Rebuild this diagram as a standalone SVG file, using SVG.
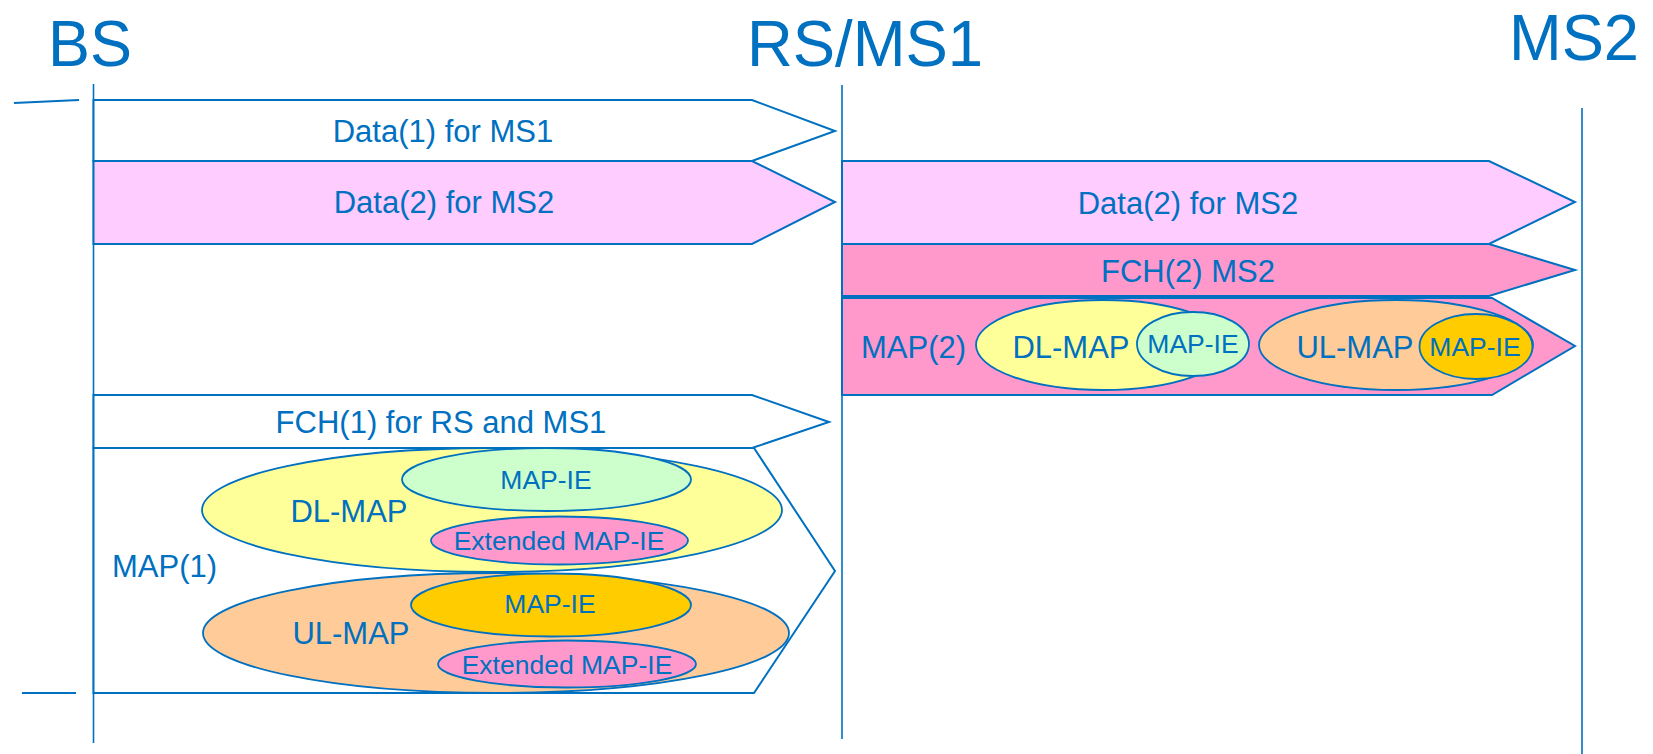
<svg xmlns="http://www.w3.org/2000/svg" width="1653" height="754" viewBox="0 0 1653 754">
  <style>
    .life { stroke: #0070C0; stroke-width: 1.6; fill: none; }
    .tick { stroke: #0070C0; stroke-width: 2; fill: none; }
    .msg { stroke: #0070C0; stroke-width: 2; stroke-linejoin: miter; }
    .ell { stroke: #0070C0; stroke-width: 1.8; }
    text { font-family: "Liberation Sans", Arial, sans-serif; fill: #0070C0; }
    .ent { font-size: 65px; }
    .lbl { font-size: 31px; }
    .sm { font-size: 26.5px; }
    .white { fill: #FFFFFF; }
    .lilac { fill: #FFCCFF; }
    .rose { fill: #FF99CC; }
    .yellow { fill: #FFFF99; }
    .mint { fill: #CCFFCC; }
    .peach { fill: #FFCC99; }
    .gold { fill: #FFCC00; }
  </style>

  <!-- entity headings and lifelines -->
  <g id="bs">
    <text class="ent" x="48" y="66" textLength="84" lengthAdjust="spacingAndGlyphs">BS</text>
    <line class="life" x1="93.5" y1="84" x2="93.5" y2="743"/>
  </g>
  <g id="rs-ms1">
    <text class="ent" x="747" y="66" textLength="236" lengthAdjust="spacingAndGlyphs">RS/MS1</text>
    <line class="life" x1="842" y1="85" x2="842" y2="739"/>
  </g>
  <g id="ms2">
    <text class="ent" x="1509" y="60" textLength="130" lengthAdjust="spacingAndGlyphs">MS2</text>
    <line class="life" x1="1582" y1="108" x2="1582" y2="754"/>
  </g>

  <!-- frame boundary ticks -->
  <g id="ticks">
    <line class="tick" x1="14" y1="103" x2="79" y2="100"/>
    <line class="tick" x1="22" y1="693" x2="76" y2="693"/>
  </g>

  <!-- BS to RS/MS1 transmissions -->
  <g id="data1-ms1">
    <polygon class="msg white" points="93.5,100 752,100 835,131 752,161 93.5,161"/>
    <text class="lbl" x="443" y="142" text-anchor="middle">Data(1) for MS1</text>
  </g>
  <g id="data2-ms2-bs">
    <polygon class="msg lilac" points="93.5,161 752,161 835,202 752,244 93.5,244"/>
    <text class="lbl" x="444" y="213" text-anchor="middle">Data(2) for MS2</text>
  </g>
  <g id="fch1">
    <polygon class="msg white" points="93.5,395 752,395 829,422 752,448 93.5,448"/>
    <text class="lbl" x="441" y="433" text-anchor="middle">FCH(1) for RS and MS1</text>
  </g>
  <g id="map1">
    <polygon class="msg white" points="93.5,448 754,448 835,571 754,693 93.5,693"/>
    <text class="lbl" x="112" y="577">MAP(1)</text>
    <g id="dl-map1">
      <ellipse class="ell yellow" cx="492" cy="510" rx="290" ry="62"/>
      <text class="lbl" x="349" y="522" text-anchor="middle">DL-MAP</text>
      <ellipse class="ell mint" cx="546.5" cy="479.5" rx="144.5" ry="31.5"/>
      <text class="sm" x="546" y="489" text-anchor="middle">MAP-IE</text>
      <ellipse class="ell rose" cx="559.5" cy="540.5" rx="128.5" ry="24"/>
      <text class="sm" x="559" y="550" text-anchor="middle">Extended MAP-IE</text>
    </g>
    <g id="ul-map1">
      <ellipse class="ell peach" cx="496" cy="633" rx="293" ry="60"/>
      <text class="lbl" x="351" y="644" text-anchor="middle">UL-MAP</text>
      <ellipse class="ell gold" cx="551" cy="605" rx="140" ry="31.5"/>
      <text class="sm" x="550" y="613" text-anchor="middle">MAP-IE</text>
      <ellipse class="ell rose" cx="567" cy="664" rx="129" ry="23.5"/>
      <text class="sm" x="567" y="674" text-anchor="middle">Extended MAP-IE</text>
    </g>
  </g>

  <!-- RS/MS1 to MS2 transmissions -->
  <g id="data2-ms2-rs">
    <polygon class="msg lilac" points="842,161 1489,161 1575,202 1489,244 842,244"/>
    <text class="lbl" x="1188" y="214" text-anchor="middle">Data(2) for MS2</text>
  </g>
  <g id="fch2">
    <polygon class="msg rose" points="842,244 1489,244 1575,270 1489,296 842,296"/>
    <text class="lbl" x="1188" y="282" text-anchor="middle">FCH(2) MS2</text>
  </g>
  <g id="map2">
    <polygon class="msg rose" points="842,298 1492,298 1575,346 1492,395 842,395"/>
    <text class="lbl" x="861" y="358">MAP(2)</text>
    <g id="dl-map2">
      <ellipse class="ell yellow" cx="1103" cy="345" rx="127" ry="45"/>
      <text class="lbl" x="1071" y="358" text-anchor="middle">DL-MAP</text>
      <ellipse class="ell mint" cx="1193" cy="344" rx="56" ry="32"/>
      <text class="sm" x="1193" y="353" text-anchor="middle">MAP-IE</text>
    </g>
    <g id="ul-map2">
      <ellipse class="ell peach" cx="1396" cy="345" rx="137" ry="45"/>
      <text class="lbl" x="1355" y="358" text-anchor="middle">UL-MAP</text>
      <ellipse class="ell gold" cx="1476" cy="346.5" rx="56.5" ry="32.5"/>
      <text class="sm" x="1475" y="356" text-anchor="middle">MAP-IE</text>
    </g>
  </g>
</svg>
